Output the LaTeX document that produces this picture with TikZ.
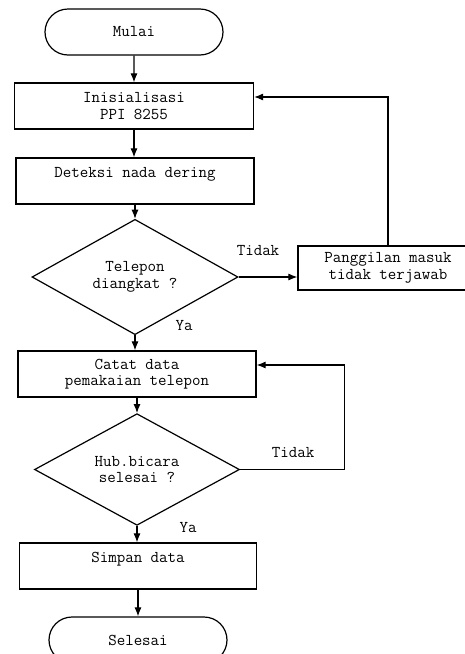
\documentclass[tikz,border=0pt]{standalone}
\usetikzlibrary{arrows.meta,shapes.geometric,shapes.misc,positioning,calc}

\begin{document}
\begin{tikzpicture}
[x=1pt,y=-1pt,
    term/.style={draw,shape=rounded rectangle,line width=1.2pt,minimum width=178pt,minimum height=46pt,inner sep=0pt},
    proc/.style={draw,shape=rectangle,line width=1.2pt,minimum width=238pt,minimum height=46pt,align=center,inner sep=0pt},
    decide/.style={draw,shape=diamond,line width=1.2pt,minimum width=206pt,minimum height=88pt,align=center,inner sep=0pt},
    lab/.style={inner sep=.5pt},
    flow/.style={>={Latex[length=9pt,width=7pt]},->,line width=1.1pt},
    every node/.style={font=\ttfamily\fontsize{16.5}{16.5}\selectfont}]
\useasboundingbox (0,0) rectangle (465,654);
%%%%% main column
\node (start) [term] at (134,32) {Mulai};
\node (init) [proc,minimum width=239pt] at (134,106) {Inisialisasi\\PPI 8255};
\node (detect) [proc] at (135,181) {Deteksi nada dering\\~};
\node (dec1) [decide] at (135,277) {Telepon\\diangkat ?};
\node (miss) [proc,minimum width=180pt,minimum height=44pt] at (388,268) {Panggilan masuk\\tidak terjawab};
\node (log) [proc] at (137,374) {Catat data\\pemakaian telepon};
\node (dec2) [decide,minimum width=205pt,minimum height=87pt] at (137,469.5) {Hub.bicara\\selesai ?};
\node (save) [proc,minimum width=237pt] at (138,566) {Simpan data\\~};
\node (stop) [term] at (138,640) {Selesai};
%% edges
\draw[flow] (start) -- (start.south|-init.north);
\draw[flow] (init) -- (init.south|-detect.north);
\draw[flow] (detect) -- (detect.south|-dec1.north);
\draw[flow] (dec1.east) -- node[lab,shift={(-10pt,26pt)}]{Tidak} (dec1.east-|miss.west);
\draw[flow] (dec1) -- node[lab,shift={(49pt,17pt)}]{Ya} (dec1.south|-log.north);
\draw[flow] (log) -- (log.south|-dec2.north);
\draw[flow] (dec2) -- node[lab,shift={(51pt,7pt)}]{Ya} (dec2.south|-save.north);
\draw[flow] (save) -- (save.south|-stop.north);
%% loops back
\draw[flow] (miss.north) |- ([yshift=9pt]init.east);
\draw[flow] (dec2.east) -- node[lab,shift={(1pt,17pt)}]{Tidak} ++(104,0) |- ([yshift=9pt]log.east);
\end{tikzpicture}
\end{document}
